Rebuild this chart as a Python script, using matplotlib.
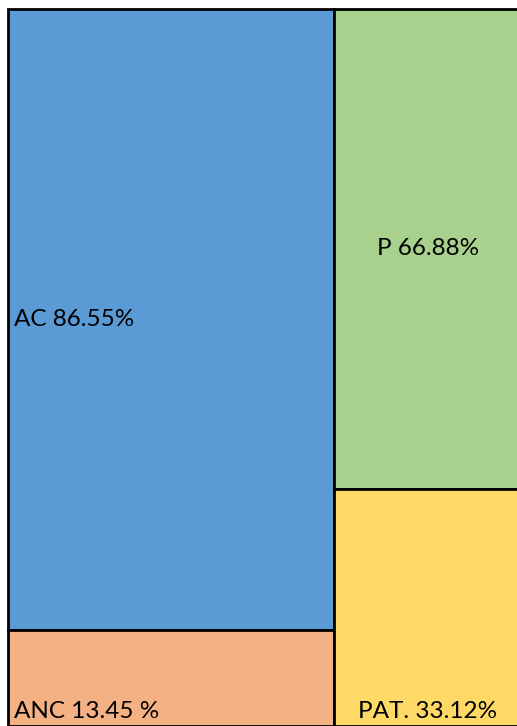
import matplotlib.pyplot as plt
from matplotlib.patches import Rectangle

# mosaic columns: each column stacks two shares (top to bottom)
columns = ["AC/ANC", "P/PAT"]
top_labels = ["AC 86.55%", "P 66.88%"]
bottom_labels = ["ANC 13.45 %", "PAT. 33.12%"]
top_values = [86.55, 66.88]
bottom_values = [13.45, 33.12]

top_colors = ["#5B9BD5", "#A9D18E"]
bottom_colors = ["#F4B183", "#FFD966"]
col_edges = [0.0, 0.634, 1.0]

W, H = 517, 726
fig = plt.figure(figsize=(W / 100, H / 100), dpi=100)
# axes extends past the right/bottom edge, like the cropped original
ax = fig.add_axes([8 / W, 0 / H, 514 / W, 717 / H])
ax.set_xlim(0, 1)
ax.set_ylim(100, 0)
ax.axis("off")

font = ["Lato", "DejaVu Sans"]
fs = 17.5
for i in range(len(columns)):
    x0, x1 = col_edges[i], col_edges[i + 1]
    t, b = top_values[i], bottom_values[i]
    ax.add_patch(Rectangle((x0, 0), x1 - x0, t, facecolor=top_colors[i],
                           edgecolor="black", linewidth=2, clip_on=False))
    ax.add_patch(Rectangle((x0, t), x1 - x0, b, facecolor=bottom_colors[i],
                           edgecolor="black", linewidth=2, clip_on=False))
    if i == 0:
        ax.text(x0 + 0.012, t / 2, top_labels[i], ha="left", va="center",
                fontsize=fs, family=font)
        ax.text(x0 + 0.012, 99.5, bottom_labels[i], ha="left", va="bottom",
                fontsize=fs, family=font)
    else:
        ax.text((x0 + x1) / 2, t / 2, top_labels[i], ha="center", va="center",
                fontsize=fs, family=font)
        ax.text((x0 + x1) / 2, 99.5, bottom_labels[i], ha="center", va="bottom",
                fontsize=fs, family=font)

fig.savefig("out.png", dpi=100)
